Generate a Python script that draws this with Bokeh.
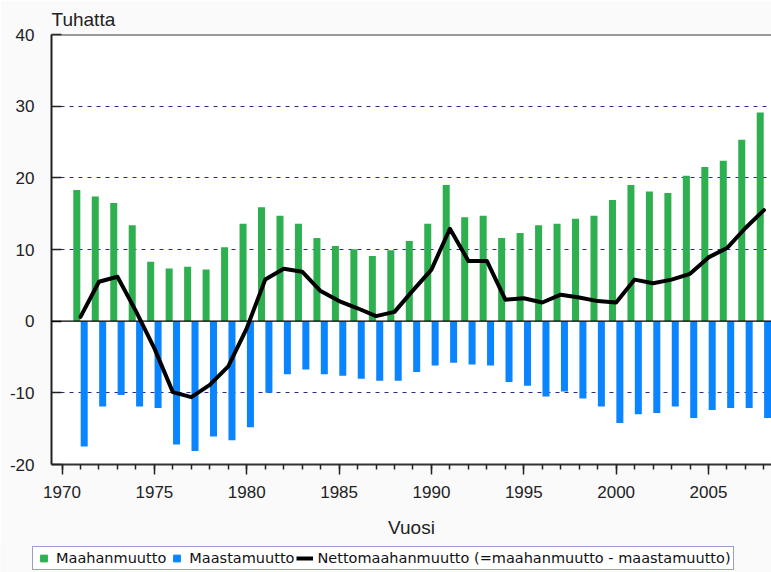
from bokeh.plotting import figure
from bokeh.layouts import column
from bokeh.models import (ColumnDataSource, Span, Legend, LegendItem, FixedTicker,
                          SingleIntervalTicker, Range1d, PrintfTickFormatter)
from bokeh.transform import dodge
from bokeh.embed import file_html
from bokeh.resources import INLINE

years = list(range(1971, 2009))
maahanmuutto = [18.3, 17.4, 16.5, 13.4, 8.3, 7.35, 7.6, 7.2, 10.3, 13.6,
                15.9, 14.7, 13.6, 11.6, 10.5, 10.05, 9.1, 9.9, 11.2, 13.6,
                19.0, 14.5, 14.7, 11.6, 12.3, 13.4, 13.6, 14.3, 14.7, 16.9,
                19.0, 18.1, 17.9, 20.3, 21.5, 22.4, 25.3, 29.1]
maastamuutto = [-17.5, -11.9, -10.3, -11.9, -12.1, -17.2, -18.1, -16.1, -16.6, -14.8,
                -10.0, -7.4, -6.75, -7.4, -7.6, -8.05, -8.3, -8.3, -7.1, -6.2,
                -5.8, -6.05, -6.2, -8.5, -9.0, -10.5, -9.8, -10.8, -11.9, -14.2,
                -13.0, -12.8, -11.9, -13.5, -12.4, -12.1, -12.1, -13.5]
netto = [0.6, 5.5, 6.2, 1.4, -3.8, -9.9, -10.6, -8.9, -6.3, -1.0,
         5.8, 7.3, 6.9, 4.2, 2.8, 1.8, 0.7, 1.3, 4.3, 7.2,
         12.9, 8.4, 8.4, 3.0, 3.2, 2.6, 3.7, 3.3, 2.8, 2.6,
         5.8, 5.3, 5.8, 6.6, 8.9, 10.2, 13.0, 15.5]

labels = ["Maahanmuutto", "Maastamuutto",
          "Nettomaahanmuutto (=maahanmuutto - maastamuutto)"]

GREEN = "#2eb050"
BLUE = "#0a85ff"
NAVY = "#2a2a8e"
BG = "#fafafa"
FONT = "Liberation Sans"

src = ColumnDataSource(dict(year=years, inn=maahanmuutto, out=maastamuutto, net=netto))

p = figure(width=771, height=542,
           x_range=Range1d(1969.43, 2008.41), y_range=Range1d(-20, 40),
           output_backend="svg", toolbar_location=None,
           min_border_left=51, min_border_right=0, min_border_top=34,
           min_border_bottom=78,
           background_fill_color="white", border_fill_color=BG,
           outline_line_color=None)

# title as the unit label
p.title.text = "Tuhatta"
p.title.align = "left"
p.title.text_font = FONT
p.title.text_font_size = "19px"
p.title.text_font_style = "normal"
p.title.text_color = "#222222"
p.title.standoff = 9

# grids
p.xgrid.visible = False
p.ygrid.ticker = FixedTicker(ticks=[-10, 10, 20, 30])
p.ygrid.grid_line_color = NAVY
p.ygrid.grid_line_dash = "4 5"
p.ygrid.grid_line_width = 1.2

# bars
p.vbar(x=dodge("year", -0.2, range=p.x_range), top="inn", bottom=0,
       width=0.38, source=src, fill_color=GREEN, line_color=None)
p.vbar(x=dodge("year", 0.2, range=p.x_range), top=0, bottom="out",
       width=0.38, source=src, fill_color=BLUE, line_color=None)

# zero line and top frame line
p.add_layout(Span(location=0, dimension="width", line_color="black", line_width=1.2))
p.add_layout(Span(location=40, dimension="width", line_color="#333333", line_width=2))

# net line
p.line(x="year", y="net", source=src, line_color="black", line_width=4,
       line_join="round", line_cap="round")

# axes
xa = p.xaxis[0]
xa.ticker = SingleIntervalTicker(interval=5, num_minor_ticks=5)
xa.axis_line_color = "#333333"
xa.axis_line_width = 2
xa.major_tick_in = 0
xa.major_tick_out = 10
xa.minor_tick_in = 0
xa.minor_tick_out = 5
xa.major_tick_line_color = "#222222"
xa.minor_tick_line_color = "#222222"
xa.major_tick_line_width = 1.5
xa.minor_tick_line_width = 1.5
xa.major_label_text_font = FONT
xa.major_label_text_font_size = "17px"
xa.major_label_text_color = "#222222"
xa.major_label_standoff = 11
xa.axis_label = "Vuosi"
xa.axis_label_text_font = FONT
xa.axis_label_text_font_size = "19px"
xa.axis_label_text_font_style = "normal"
xa.axis_label_text_color = "#222222"
xa.axis_label_standoff = 16

ya = p.yaxis[0]
ya.ticker = FixedTicker(ticks=[-20, -10, 0, 10, 20, 30, 40])
ya.formatter = PrintfTickFormatter(format="%d")
ya.axis_line_color = "#222222"
ya.axis_line_width = 2
ya.major_tick_in = 10
ya.major_tick_out = 0
ya.minor_tick_in = 0
ya.minor_tick_out = 0
ya.major_tick_line_color = "#222222"
ya.major_tick_line_width = 1.5
ya.major_label_text_font = FONT
ya.major_label_text_font_size = "17px"
ya.major_label_text_color = "#222222"
ya.major_label_standoff = 17

# legend strip below the chart
nan = float("nan")
lf = figure(width=771, height=30, x_range=Range1d(0, 1), y_range=Range1d(0, 1),
            output_backend="svg", toolbar_location=None,
            x_axis_location=None, y_axis_location=None,
            min_border=0, background_fill_color=BG, border_fill_color=BG,
            outline_line_color=None)
lf.frame_align = False
lf.grid.visible = False
lg_in = lf.scatter(x=[nan], y=[nan], marker="square", fill_color=GREEN, line_color=GREEN)
lg_out = lf.scatter(x=[nan], y=[nan], marker="square", fill_color=BLUE, line_color=BLUE)
lg_net = lf.line(x=[nan, nan], y=[nan, nan], line_color="black", line_width=4)

legend = Legend(items=[LegendItem(label=labels[0], renderers=[lg_in]),
                       LegendItem(label=labels[1], renderers=[lg_out]),
                       LegendItem(label=labels[2], renderers=[lg_net])],
                orientation="horizontal", location=(32, 2),
                glyph_width=17, glyph_height=18, label_height=14,
                label_standoff=4, spacing=2, padding=2, margin=0,
                label_text_font="DejaVu Sans", label_text_font_size="14.5px",
                label_text_color="#111111",
                border_line_color="#3a3aa0", border_line_width=1.5,
                background_fill_color="white", background_fill_alpha=1.0)
lf.add_layout(legend, "center")

layout = column(p, lf, spacing=0)
open("out.html", "w").write(file_html(layout, INLINE))
